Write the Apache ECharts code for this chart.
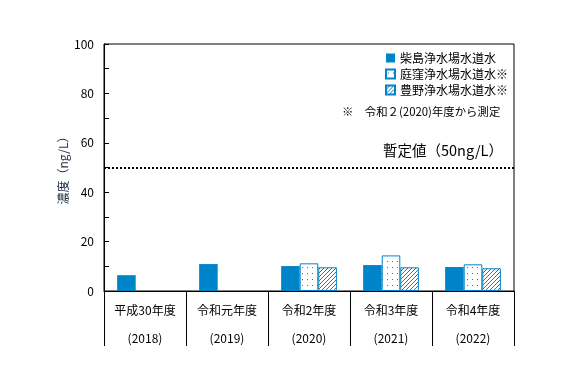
<!DOCTYPE html>
<html>
<head>
<meta charset="utf-8">
<script src="https://cdn.jsdelivr.net/npm/echarts@6/dist/echarts.min.js"></script>
<style>
  html, body { margin: 0; padding: 0; background: #fff; }
  #chart { width: 577px; height: 376px; }
</style>
</head>
<body>
<div id="chart"></div>
<script>
// 年度ラベル
const fiscalYears = ['平成30年度', '令和元年度', '令和2年度', '令和3年度', '令和4年度'];
const calendarYears = ['(2018)', '(2019)', '(2020)', '(2021)', '(2022)'];

// 濃度 (ng/L)
const kunijima = [6.4, 10.9, 10.1, 10.5, 9.7];
const niwakubo = [null, null, 11.2, 14.4, 10.8];
const toyono = [null, null, 9.6, 9.6, 9.2];

const seriesNames = ['柴島浄水場水道水', '庭窪浄水場水道水※', '豊野浄水場水道水※'];
const yTicks = [0, 20, 40, 60, 80, 100];
const provisional = 50;

const blue = '#0084c9';

// 点模様
function dotPattern() {
  const c = document.createElement('canvas');
  c.width = 5; c.height = 6;
  const ctx = c.getContext('2d');
  ctx.fillStyle = '#fff';
  ctx.fillRect(0, 0, 5, 6);
  ctx.fillStyle = blue;
  ctx.fillRect(2, 3, 1, 1);
  return c;
}

// 斜線模様
function hatchPattern() {
  const c = document.createElement('canvas');
  c.width = 4; c.height = 4;
  const ctx = c.getContext('2d');
  ctx.fillStyle = '#fff';
  ctx.fillRect(0, 0, 4, 4);
  ctx.strokeStyle = blue;
  ctx.lineWidth = 1;
  ctx.beginPath();
  ctx.moveTo(-1, 5); ctx.lineTo(5, -1);
  ctx.moveTo(-1, 1); ctx.lineTo(1, -1);
  ctx.moveTo(3, 5); ctx.lineTo(5, 3);
  ctx.stroke();
  return c;
}

const chart = echarts.init(document.getElementById('chart'));
const font = '"Noto Sans CJK JP", "Noto Sans", sans-serif';

const option = {
  animation: false,
  textStyle: { fontFamily: font },
  grid: {
    left: 104, right: 63, top: 44, bottom: 85,
    show: true, borderColor: '#000', borderWidth: 1
  },
  legend: {
    orient: 'vertical',
    left: 380, top: 47,
    icon: 'rect',
    itemWidth: 9, itemHeight: 9, itemGap: 4,
    textStyle: { fontSize: 12, color: '#000', fontFamily: font },
    data: seriesNames
  },
  xAxis: {
    type: 'category',
    data: fiscalYears.map((f, i) => f + '\n' + calendarYears[i]),
    axisLine: { lineStyle: { color: '#000' } },
    axisTick: { show: true, length: 55, lineStyle: { color: '#000', width: 1 } },
    axisLabel: { color: '#000', fontSize: 12, lineHeight: 28, margin: 5, interval: 0 }
  },
  yAxis: {
    type: 'value',
    min: yTicks[0], max: yTicks[yTicks.length - 1], interval: 20,
    name: '濃度（ng/L）',
    nameLocation: 'middle',
    nameGap: 35,
    nameMoveOverlap: false,
    nameTextStyle: { color: '#1a2a40', fontSize: 12 },
    axisLine: { show: true, lineStyle: { color: '#000' } },
    axisTick: { show: true, inside: true, length: 5, lineStyle: { color: '#000' } },
    minorTick: { show: true, splitNumber: 2, length: 5, lineStyle: { color: '#000' } },
    splitLine: { show: false },
    axisLabel: { color: '#000', fontSize: 12, margin: 10 }
  },
  graphic: [
    {
      type: 'text', left: 342, top: 106,
      style: { text: '※　令和２(2020)年度から測定', fontSize: 11.4, fill: '#000', fontFamily: font }
    },
    {
      type: 'text', left: 383, top: 143,
      style: { text: '暫定値（50ng/L）', fontSize: 14.5, fill: '#000', fontFamily: font }
    }
  ],
  series: [
    {
      name: seriesNames[0], type: 'bar', data: kunijima,
      barGap: 0, barCategoryGap: '32%',
      itemStyle: { color: blue },
      markLine: {
        silent: true, symbol: 'none',
        label: { show: false },
        lineStyle: { color: '#000', type: [2, 2], width: 2 },
        data: [{ yAxis: provisional }]
      }
    },
    {
      name: seriesNames[1], type: 'bar', data: niwakubo,
      itemStyle: { color: { image: dotPattern(), repeat: 'repeat' }, borderColor: blue, borderWidth: 1 }
    },
    {
      name: seriesNames[2], type: 'bar', data: toyono,
      itemStyle: { color: { image: hatchPattern(), repeat: 'repeat' }, borderColor: blue, borderWidth: 1 }
    }
  ]
};

chart.setOption(option);
</script>
</body>
</html>
